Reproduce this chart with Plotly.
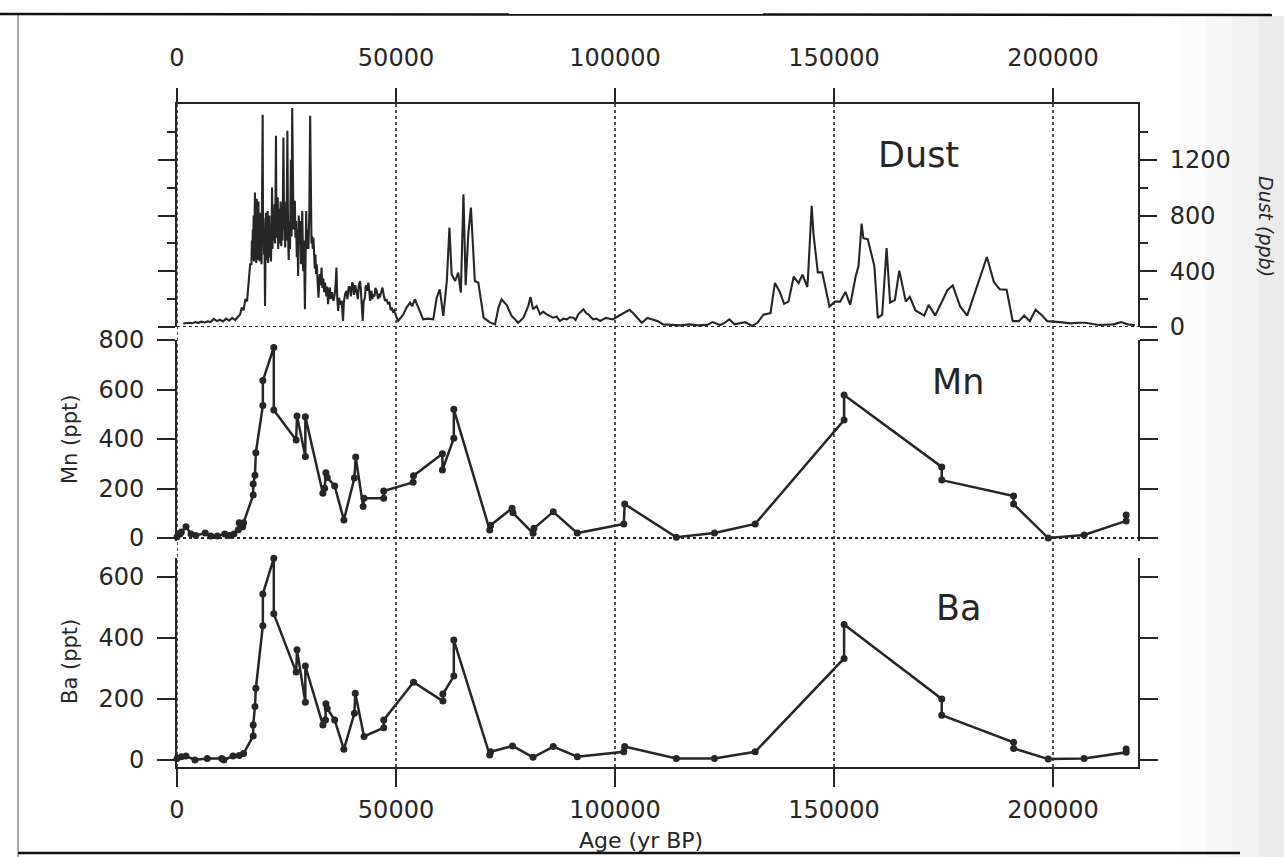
import plotly.graph_objects as go

# --- data ---------------------------------------------------------------------
dust_age = [
    1400, 2100, 2800, 3500, 4200, 4900, 5600, 6300, 7000, 7700, 8400, 9100, 9800,
    10500, 11200, 11900, 12600, 13300, 14000, 14400, 14800, 15200, 15600, 16000,
    16300, 16700, 17000, 17100, 17200, 17300, 17400, 17500, 17600, 17700, 17800,
    17900, 18000, 18100, 18200, 18300, 18400, 18500, 18600, 18700, 18800, 18900,
    19000, 19100, 19200, 19300, 19400, 19560, 19650, 19750, 19850, 19950, 20100,
    20200, 20300, 20400, 20500, 20600, 20700, 20800, 20900, 21000, 21100, 21200,
    21300, 21450, 21600, 21700, 21800, 21950, 22100, 22250, 22400, 22600, 22700,
    22800, 22900, 23000, 23100, 23250, 23400, 23500, 23650, 23800, 23950, 24100,
    24300, 24450, 24550, 24700, 24850, 25000, 25200, 25350, 25500, 25650, 25800,
    26000, 26150, 26300, 26450, 26600, 26750, 26900, 27050, 27200, 27350, 27500,
    27650, 27800, 28000, 28150, 28300, 28450, 28600, 28800, 29000, 29200, 29350,
    29500, 29650, 29800, 30000, 30200, 30400, 30550, 30700, 30850, 31000, 31150,
    31300, 31450, 31600, 31750, 31900, 32100, 32300, 32600, 32800, 33000, 33200,
    33400, 33600, 33800, 34100, 34300, 34500, 34700, 34900, 35100, 35400, 35700,
    36000, 36200, 36400, 36600, 36800, 37000, 37300, 37600, 37800, 37900, 38100,
    38400, 38700, 38900, 39200, 39500, 39700, 40000, 40200, 40400, 40700, 41000,
    41300, 41500, 41800, 42000, 42200, 42400, 42600, 42900, 43100, 43400, 43700,
    43900, 44100, 44400, 44600, 44800, 45100, 45300, 45600, 45900, 46100, 46300,
    46600, 46900, 47200, 47500, 47800, 48200, 48500, 48800, 49000, 49300, 49600,
    49800, 50100, 50500, 51000, 51700, 52400, 53200, 53700, 54300, 55100, 55700,
    56200, 57300, 58500, 59300, 60000, 60800, 61600, 62200, 62700, 63500, 64200,
    64800, 65400, 65900, 66500, 67100, 67700, 68000, 68800, 70000, 71500, 72600,
    73400, 74100, 75300, 76400, 77900, 79100, 80200, 80700, 81300, 82100, 82900,
    83600, 84400, 85200, 85900, 86700, 87400, 88200, 89000, 89700, 90500, 91000,
    91600, 92200, 92800, 93400, 93900, 94500, 95000, 95800, 96600, 97900, 99500,
    100700, 103300, 104100, 105300, 106100, 107400, 108600, 109800, 111000, 113000,
    115000, 117000, 119000, 121000, 122300, 124000, 125000, 126100, 127300, 129700,
    131300, 132500, 133900, 135500, 136500, 137600, 138600, 139600, 140800, 141900,
    142800, 143900, 144100, 144900, 145300, 146300, 147300, 148960, 150200, 151400,
    152600, 153700, 154900, 155600, 156300, 156700, 157700, 159200, 160000, 161000,
    162000, 162800, 163900, 164900, 166400, 167300, 168600, 170600, 171600, 173100,
    175900, 177100, 178800, 180400, 184900, 186500, 187800, 189400, 190800, 192200,
    193400, 194700, 196000, 197500, 198700, 201600, 204000, 205700, 207300, 210500,
    213800, 215500, 217100, 218700,
]
dust_ppb = [
    25, 28, 30, 27, 35, 30, 38, 33, 40, 36, 58, 42, 52,
    40, 60, 45, 65, 50, 72, 90, 140, 120, 200, 185,
    300, 450, 450, 620, 480, 700, 520, 800, 470, 900, 965,
    500, 880, 460, 920, 520, 850, 480, 900, 550, 780, 470,
    820, 500, 760, 450, 700, 1523, 600, 780, 520, 700, 150,
    560, 820, 480, 760, 520, 833, 460, 740, 600, 800, 500,
    720, 470, 650, 1000, 560, 780, 620, 880, 600, 1372, 640,
    900, 680, 930, 560, 850, 600, 666, 900, 580, 820, 620,
    1360, 700, 900, 570, 800, 620, 1408, 680, 480, 760, 560,
    1200, 650, 1571, 820, 700, 860, 905, 640, 760, 500, 700,
    366, 800, 594, 760, 450, 620, 833, 400, 620, 127, 500,
    833, 560, 700, 560, 800, 1516, 700, 600, 650, 560, 640,
    500, 420, 520, 380, 450, 300, 211, 380, 300, 426, 280,
    350, 250, 318, 220, 290, 163, 260, 283, 200, 250, 187,
    230, 300, 426, 200, 115, 210, 160, 187, 90, 43, 180,
    240, 259, 200, 290, 283, 220, 320, 306, 230, 300, 259,
    200, 300, 330, 250, 150, 43, 180, 211, 300, 260, 318,
    230, 187, 260, 200, 235, 220, 280, 259, 200, 240, 211,
    260, 283, 230, 187, 200, 163, 180, 120, 139, 110, 120,
    91, 70, 43, 60, 91, 139, 175, 150, 199, 139, 90,
    55, 60, 55, 211, 270, 79, 330, 713, 378, 330, 390,
    247, 953, 300, 666, 857, 546, 330, 318, 67, 31, 19,
    139, 199, 155, 79, 31, 67, 151, 216, 127, 151, 91,
    110, 91, 80, 67, 75, 43, 60, 55, 70, 67, 50,
    91, 110, 127, 100, 91, 70, 55, 60, 43, 65, 54,
    77, 124, 100, 54, 30, 65, 54, 42, 19, 15,
    12, 19, 12, 15, 35, 14, 30, 54, 19, 35,
    7, 30, 89, 100, 315, 253, 166, 182, 362, 315,
    376, 287, 380, 870, 672, 392, 392, 147, 182, 182,
    252, 159, 357, 439, 742, 637, 630, 439, 65, 89,
    567, 175, 194, 404, 182, 217, 119, 82, 159, 82,
    264, 299, 147, 82, 502, 322, 271, 268, 42, 42,
    82, 42, 124, 82, 42, 35, 26, 30, 30, 14,
    19, 35, 19, 12,
]

mn_age = [
    0, 700, 1000, 2050, 3200, 4300, 6450, 7700, 9200, 10900, 12000, 13000, 14000,
    14200, 15000, 15200, 17400, 17400, 17800, 18000, 19600, 19600, 22100, 22100,
    27200, 27400, 29300, 29300, 33300, 33700, 34000, 34300, 36000, 38100, 40500,
    40800, 42500, 42700, 47200, 47200, 53900, 54000, 60600, 60600, 63200, 63200,
    71400, 71600, 76500, 76700, 81300, 81500, 85900, 91400, 102000, 102200, 114000,
    122700, 132000, 152300, 152300, 174600, 174600, 191000, 191000, 198900, 207100,
    216700, 216700,
]
mn_ppt = [
    5, 16, 24, 46, 16, 10, 20, 8, 8, 16, 10, 16, 33,
    62, 46, 62, 174, 218, 254, 345, 535, 636, 770, 517,
    396, 493, 329, 490, 181, 201, 264, 245, 210, 73, 242,
    327, 127, 161, 161, 190, 225, 252, 340, 275, 403, 520,
    32, 52, 120, 102, 19, 39, 106, 20, 57, 137, 3,
    20, 57, 477, 578, 287, 234, 170, 137, 0, 12,
    69, 93,
]

ba_age = [
    0, 1000, 2050, 4100, 6900, 10200, 10700, 12800, 14200, 15200, 17400, 17400,
    17800, 18000, 19600, 19600, 22100, 22100, 27200, 27400, 29300, 29300, 33300,
    33900, 34000, 34300, 36000, 38100, 40500, 40700, 42700, 47200, 47200, 54000,
    60700, 60700, 63200, 63200, 71400, 71600, 76600, 81300, 85900, 91400, 102000,
    102200, 114000, 122700, 132000, 152300, 152300, 174600, 174600, 191000, 191000,
    198900, 207100, 216700, 216700,
]
ba_ppt = [
    5, 11, 13, 0, 5, 5, 0, 13, 15, 21, 79, 115,
    175, 235, 440, 544, 661, 479, 288, 361, 189, 308, 115,
    131, 184, 169, 131, 35, 153, 219, 77, 106, 131, 255,
    193, 216, 275, 393, 16, 27, 46, 9, 44, 11, 27,
    44, 5, 5, 27, 333, 444, 200, 147, 58, 38,
    3, 5, 25, 36,
]

age_ticks = [0, 50000, 100000, 150000, 200000]
age_labels = ["0", "50000", "100000", "150000", "200000"]

# --- layout helpers (pixel -> paper) -----------------------------------------
W, H = 1284, 857
INK = "#262626"
FONT = "DejaVu Sans"


def px(x):
    return x / W


def py(y):
    return 1 - y / H


X_DOMAIN = [px(177), px(1138)]
X_RANGE = [0, 219400]

fig = go.Figure()

fig.add_trace(go.Scatter(
    x=dust_age, y=dust_ppb, mode="lines", xaxis="x", yaxis="y",
    line=dict(color=INK, width=2.1), showlegend=False,
))
fig.add_trace(go.Scatter(
    x=mn_age, y=mn_ppt, mode="lines+markers", xaxis="x2", yaxis="y2",
    line=dict(color=INK, width=2.5), marker=dict(color=INK, size=7),
    cliponaxis=False, showlegend=False,
))
fig.add_trace(go.Scatter(
    x=ba_age, y=ba_ppt, mode="lines+markers", xaxis="x3", yaxis="y3",
    line=dict(color=INK, width=2.5), marker=dict(color=INK, size=7),
    cliponaxis=False, showlegend=False,
))

tickfont = dict(family=FONT, size=24, color=INK)
common_y = dict(showgrid=False, zeroline=False, showline=True, linecolor=INK,
                linewidth=2, ticks="outside", tickcolor=INK, tickwidth=2,
                mirror="ticks", tickfont=tickfont, automargin=False)

shapes = []
# dotted vertical grid lines across all panels
for v in age_ticks:
    shapes.append(dict(type="line", xref="x", yref="paper", x0=v, x1=v,
                       y0=py(767), y1=py(104),
                       line=dict(color=INK, width=1.6, dash="dot"),
                       layer="below"))
# dotted zero lines (Dust, Mn)
shapes.append(dict(type="line", xref="x", yref="y", x0=X_RANGE[0], x1=X_RANGE[1],
                   y0=0, y1=0, line=dict(color=INK, width=2, dash="dot")))
shapes.append(dict(type="line", xref="x2", yref="y2", x0=X_RANGE[0], x1=X_RANGE[1],
                   y0=0, y1=0, line=dict(color=INK, width=2, dash="dot")))
# scanned page frame
shapes.append(dict(type="line", xref="paper", yref="paper", x0=0, x1=px(1272),
                   y0=py(14), y1=py(15), line=dict(color="#111", width=2.5)))
shapes.append(dict(type="line", xref="paper", yref="paper", x0=px(18), x1=px(18),
                   y0=py(857), y1=py(15), line=dict(color="#555", width=1)))
shapes.append(dict(type="line", xref="paper", yref="paper", x0=px(18), x1=px(1240),
                   y0=py(853), y1=py(853), line=dict(color="#111", width=2.5)))
# faint page curvature shading at the right edge
for i, op in enumerate([0.03, 0.04, 0.05, 0.06]):
    shapes.append(dict(type="rect", xref="paper", yref="paper",
                       x0=px(1180 + i * 26), x1=1, y0=0, y1=py(16),
                       fillcolor="#909090", opacity=op, line=dict(width=0),
                       layer="below"))

annotations = [
    dict(text="Dust", x=px(918), y=py(155), font=dict(family=FONT, size=35, color=INK)),
    dict(text="Mn", x=px(958), y=py(382), font=dict(family=FONT, size=35, color=INK)),
    dict(text="Ba", x=px(958), y=py(608), font=dict(family=FONT, size=35, color=INK)),
    dict(text="Mn (ppt)", x=px(70), y=py(440), textangle=-90,
         font=dict(family=FONT, size=21, color=INK)),
    dict(text="Ba (ppt)", x=px(70), y=py(662), textangle=-90,
         font=dict(family=FONT, size=21, color=INK)),
    dict(text="<i>Dust (ppb)</i>", x=px(1266), y=py(226), textangle=90,
         font=dict(family=FONT, size=19, color=INK)),
    dict(text="Age (yr BP)", x=px(641), y=py(840),
         font=dict(family=FONT, size=22, color=INK)),
]
for a in annotations:
    a.update(xref="paper", yref="paper", showarrow=False,
             xanchor="center", yanchor="middle")

fig.update_layout(
    width=W, height=H,
    autosize=False,
    margin=dict(l=0, r=0, t=0, b=0, pad=0, autoexpand=False),
    paper_bgcolor="white", plot_bgcolor="rgba(0,0,0,0)",
    showlegend=False,
    xaxis=dict(domain=X_DOMAIN, range=X_RANGE, anchor="y", side="top",
               showline=True, linecolor=INK, linewidth=2, showgrid=False,
               zeroline=False, ticks="outside", ticklen=14, tickwidth=2,
               tickcolor=INK, tickvals=age_ticks, ticktext=age_labels,
               tickfont=tickfont, ticklabelstandoff=12, automargin=False),
    xaxis2=dict(domain=X_DOMAIN, range=X_RANGE, matches="x", anchor="y2",
                showline=False, showgrid=False, zeroline=False,
                showticklabels=False, ticks="", automargin=False),
    xaxis3=dict(domain=X_DOMAIN, range=X_RANGE, matches="x", anchor="y3",
                side="bottom", showline=True, linecolor=INK, linewidth=2,
                showgrid=False, zeroline=False, ticks="outside", ticklen=18,
                tickwidth=2, tickcolor=INK, tickvals=age_ticks,
                ticktext=age_labels, tickfont=tickfont, ticklabelstandoff=2,
                automargin=False),
    yaxis=dict(domain=[py(327), py(104)], range=[0, 1600], anchor="x",
               side="right", tickvals=[0, 400, 800, 1200], ticklen=17,
               ticklabelstandoff=8,
               minor=dict(tickvals=[200, 600, 1000, 1400], ticklen=8,
                          ticks="outside", tickcolor=INK, tickwidth=2),
               **common_y),
    yaxis2=dict(domain=[py(540.5), py(340)], range=[-10, 800], anchor="x2",
                side="left", tickvals=[0, 200, 400, 600, 800], ticklen=18,
                ticklabelstandoff=8, **common_y),
    yaxis3=dict(domain=[py(767), py(558)], range=[-23, 662], anchor="x3",
                side="left", tickvals=[0, 200, 400, 600], ticklen=18,
                ticklabelstandoff=8, **common_y),
    shapes=shapes,
    annotations=annotations,
)

fig.write_html(
    "out.html",
    config={"displayModeBar": False},
    post_script="document.body.style.margin='0';"
                "document.body.style.overflow='hidden';",
)
